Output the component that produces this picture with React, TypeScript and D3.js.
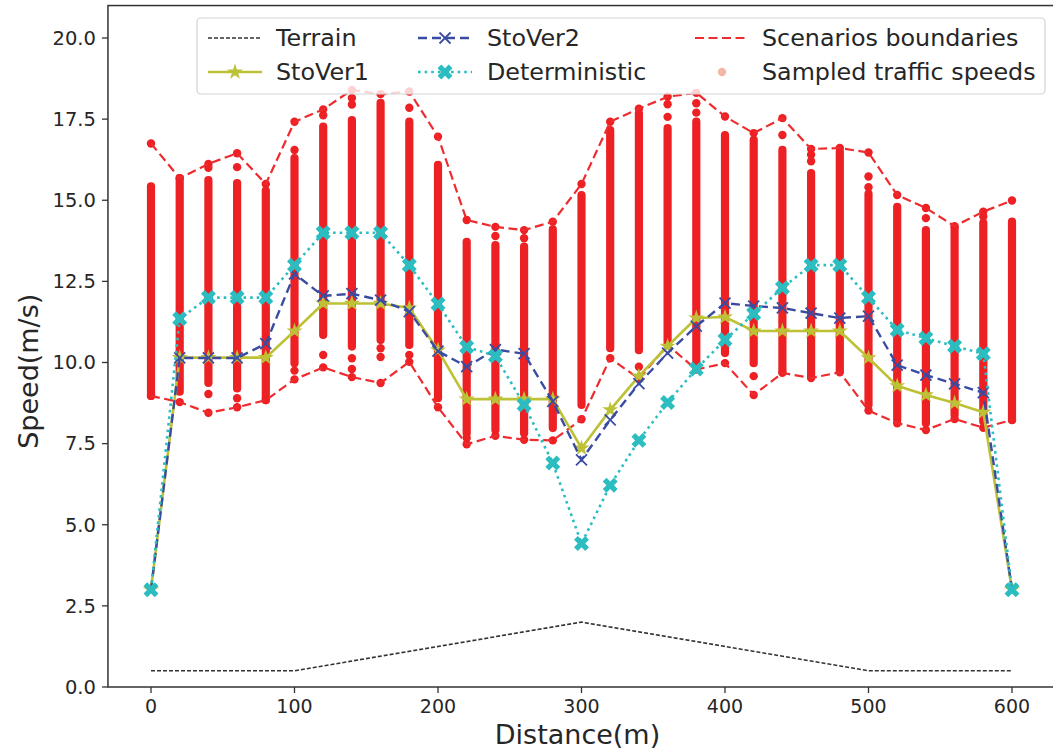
import React from "react";
import * as d3 from "d3";

const distance = [0, 20, 40, 60, 80, 100, 120, 140, 160, 180, 200, 220, 240, 260, 280, 300, 320, 340, 360, 380, 400, 420, 440, 460, 480, 500, 520, 540, 560, 580, 600];

const stoVer1 = [3.0, 10.15, 10.15, 10.15, 10.15, 10.97, 11.82, 11.82, 11.82, 11.68, 10.38, 8.87, 8.87, 8.87, 8.87, 7.36, 8.54, 9.58, 10.5, 11.37, 11.4, 10.97, 10.97, 10.97, 10.97, 10.14, 9.28, 9.0, 8.75, 8.47, 3.0];
const stoVer2 = [3.0, 10.14, 10.14, 10.14, 10.58, 12.73, 12.05, 12.12, 11.92, 11.57, 10.35, 9.87, 10.4, 10.27, 8.8, 7.0, 8.23, 9.35, 10.29, 11.12, 11.83, 11.74, 11.68, 11.52, 11.37, 11.43, 9.92, 9.61, 9.34, 9.07, 3.0];
const deterministic = [3.0, 11.35, 12.0, 12.0, 12.0, 13.0, 14.0, 14.0, 14.0, 13.0, 11.8, 10.48, 10.2, 8.7, 6.9, 4.42, 6.22, 7.6, 8.77, 9.8, 10.7, 11.5, 12.3, 13.0, 13.0, 12.0, 11.0, 10.75, 10.5, 10.27, 3.0];

const terrainX = [0, 100, 300, 500, 600];
const terrainY = [0.5, 0.5, 2.0, 0.5, 0.5];

const upperBound = [16.75, 15.68, 16.12, 16.45, 15.5, 17.42, 17.8, 18.4, 18.27, 18.35, 16.96, 14.39, 14.18, 14.08, 14.34, 15.5, 17.42, 17.82, 18.19, 18.31, 17.58, 17.07, 17.53, 16.58, 16.61, 16.47, 15.16, 14.76, 14.2, 14.65, 14.99];
const lowerBound = [8.97, 8.78, 8.45, 8.62, 8.84, 9.48, 9.85, 9.55, 9.37, 10.02, 8.62, 7.48, 7.74, 7.62, 7.6, 8.25, 10.13, 9.5, 10.54, 9.78, 9.98, 9.0, 9.68, 9.52, 9.7, 8.52, 8.13, 7.92, 8.26, 7.99, 8.23];

const denseHigh = [15.43, 15.68, 15.62, 15.53, 15.3, 16.3, 17.27, 17.47, 18.0, 17.42, 16.09, 13.72, 13.62, 13.57, 14.1, 15.16, 17.16, 17.68, 17.22, 17.42, 17.01, 16.86, 16.55, 15.84, 16.5, 15.2, 14.8, 14.08, 14.15, 14.3, 14.34];
const denseLow = [8.97, 9.1, 9.37, 9.2, 8.84, 9.98, 10.85, 10.49, 10.69, 10.54, 8.9, 7.82, 7.92, 7.82, 7.98, 8.69, 10.44, 10.38, 10.64, 10.02, 10.29, 9.98, 9.72, 9.55, 9.77, 8.69, 8.23, 8.13, 8.38, 8.18, 8.23];
const outliers: number[][] = [
  [], [], [16.0, 9.03], [16.02, 8.9], [], [16.55, 9.75], [17.62, 10.23], [18.15, 17.95, 10.13, 9.8],
  [10.44, 10.17], [17.85, 10.23], [], [7.67], [13.9], [13.83], [], [], [], [9.87], [17.96, 17.57],
  [17.99, 17.7], [], [9.58], [17.01], [16.4, 16.2], [], [15.73, 15.4], [], [14.45], [], [14.5], [],
];

const xTicks = [0, 100, 200, 300, 400, 500, 600];
const yTicks = [0, 2.5, 5, 7.5, 10, 12.5, 15, 17.5, 20];

const W = 1053;
const H = 751;

const x = d3.scaleLinear().domain([0, 600]).range([151, 1012]);
const y = d3.scaleLinear().domain([0, 20]).range([687, 38]);
const xMin = x(-30);
const xMax = x(630);
const yTop = y(21);
const yBot = y(0);

const RED = "#ED2024";
const RED_LINE = "#EE2B2E";
const BLUE = "#3A4CA2";
const OLIVE = "#BDC135";
const CYAN = "#2BBDC0";
const FONT = "'DejaVu Sans', sans-serif";

const star = d3.symbol().type(d3.symbolStar).size(80)()!;
const bigX = d3.symbol().type(d3.symbolCross).size(140)()!;

function line(xs: number[], ys: number[]) {
  return d3.line<number>().x((_, i) => x(xs[i])).y((v) => y(v))(ys) || "";
}

function XMark({ cx, cy, color }: { cx: number; cy: number; color: string }) {
  const s = 5.5;
  return (
    <g stroke={color} strokeWidth={1.8}>
      <line x1={cx - s} y1={cy - s} x2={cx + s} y2={cy + s} />
      <line x1={cx - s} y1={cy + s} x2={cx + s} y2={cy - s} />
    </g>
  );
}

export default function App() {
  const lx = [208, 418, 695];
  const ly = [38, 72];
  const LF = 23.8;
  return (
    <svg width={W} height={H} style={{ position: "absolute", left: 0, top: 0, background: "#fff" }} fontFamily={FONT}>
      <defs>
        <clipPath id="plot">
          <rect x={xMin} y={yTop} width={xMax - xMin} height={yBot - yTop} />
        </clipPath>
      </defs>
      <g clipPath="url(#plot)">
        {distance.map((d, i) => (
          <g key={"s" + i} fill={RED} stroke={RED}>
            <line x1={x(d)} x2={x(d)} y1={y(denseLow[i])} y2={y(denseHigh[i])} strokeWidth={8.2} strokeLinecap="round" />
            <circle cx={x(d)} cy={y(upperBound[i])} r={4.2} stroke="none" />
            <circle cx={x(d)} cy={y(lowerBound[i])} r={4.2} stroke="none" />
            {outliers[i].map((v, j) => (
              <circle key={j} cx={x(d)} cy={y(v)} r={4.2} stroke="none" />
            ))}
          </g>
        ))}
        <path d={line(distance, upperBound)} fill="none" stroke={RED_LINE} strokeWidth={2.2} strokeDasharray="9,4.5" />
        <path d={line(distance, lowerBound)} fill="none" stroke={RED_LINE} strokeWidth={2.2} strokeDasharray="9,4.5" />
        <path d={line(terrainX, terrainY)} fill="none" stroke="#333" strokeWidth={1.6} strokeDasharray="4,2" />
        <path d={line(distance, stoVer1)} fill="none" stroke={OLIVE} strokeWidth={2.6} />
        {distance.map((d, i) => (
          <path key={"a" + i} d={star} transform={`translate(${x(d)},${y(stoVer1[i])})`} fill={OLIVE} />
        ))}
        <path d={line(distance, stoVer2)} fill="none" stroke={BLUE} strokeWidth={2.4} strokeDasharray="9,5" />
        {distance.map((d, i) => (
          <XMark key={"b" + i} cx={x(d)} cy={y(stoVer2[i])} color={BLUE} />
        ))}
        <path d={line(distance, deterministic)} fill="none" stroke={CYAN} strokeWidth={2.6} strokeDasharray="2.6,4" />
        {distance.map((d, i) => (
          <path key={"c" + i} d={bigX} transform={`translate(${x(d)},${y(deterministic[i])}) rotate(45)`} fill={CYAN} />
        ))}
      </g>

      <rect x={xMin} y={yTop} width={xMax - xMin} height={yBot - yTop} fill="none" stroke="#333" strokeWidth={1.5} />
      {xTicks.map((t) => (
        <g key={"x" + t}>
          <line x1={x(t)} x2={x(t)} y1={yBot} y2={yBot + 6} stroke="#333" strokeWidth={1.3} />
          <text x={x(t)} y={yBot + 26} textAnchor="middle" fontSize={19} fill="#262626">{t}</text>
        </g>
      ))}
      {yTicks.map((t) => (
        <g key={"y" + t}>
          <line x1={xMin - 6} x2={xMin} y1={y(t)} y2={y(t)} stroke="#333" strokeWidth={1.3} />
          <text x={xMin - 12} y={y(t)} dy="0.35em" textAnchor="end" fontSize={19.5} fill="#262626">{t.toFixed(1)}</text>
        </g>
      ))}
      <text x={(xMin + xMax) / 2 - 4} y={744} textAnchor="middle" fontSize={27} fill="#262626">Distance(m)</text>
      <text transform={`translate(38,${(yTop + yBot) / 2 + 25}) rotate(-90)`} textAnchor="middle" fontSize={27} fill="#262626">Speed(m/s)</text>

      <rect x={197} y={18} width={848} height={76} rx={4} fill="#fff" fillOpacity={0.8} stroke="#d3d3d3" strokeWidth={1.2} />
      <line x1={lx[0]} x2={lx[0] + 54} y1={ly[0]} y2={ly[0]} stroke="#333" strokeWidth={1.6} strokeDasharray="4,2" />
      <text x={276} y={ly[0]} dy="0.35em" fontSize={LF} fill="#262626">Terrain</text>
      <line x1={lx[0]} x2={lx[0] + 54} y1={ly[1]} y2={ly[1]} stroke={OLIVE} strokeWidth={2.6} />
      <path d={star} transform={`translate(${lx[0] + 27},${ly[1]})`} fill={OLIVE} />
      <text x={276} y={ly[1]} dy="0.35em" fontSize={LF} fill="#262626">StoVer1</text>
      <line x1={lx[1]} x2={lx[1] + 54} y1={ly[0]} y2={ly[0]} stroke={BLUE} strokeWidth={2.4} strokeDasharray="9,5" />
      <XMark cx={lx[1] + 27} cy={ly[0]} color={BLUE} />
      <text x={487} y={ly[0]} dy="0.35em" fontSize={LF} fill="#262626">StoVer2</text>
      <line x1={lx[1]} x2={lx[1] + 54} y1={ly[1]} y2={ly[1]} stroke={CYAN} strokeWidth={2.6} strokeDasharray="2.6,4" />
      <path d={bigX} transform={`translate(${lx[1] + 27},${ly[1]}) rotate(45)`} fill={CYAN} />
      <text x={487} y={ly[1]} dy="0.35em" fontSize={LF} fill="#262626">Deterministic</text>
      <line x1={lx[2]} x2={lx[2] + 54} y1={ly[0]} y2={ly[0]} stroke={RED_LINE} strokeWidth={2.2} strokeDasharray="9,4.5" />
      <text x={762} y={ly[0]} dy="0.35em" fontSize={LF} fill="#262626">Scenarios boundaries</text>
      <circle cx={lx[2] + 27} cy={ly[1]} r={4.2} fill="#F5B6A8" />
      <text x={762} y={ly[1]} dy="0.35em" fontSize={LF} fill="#262626">Sampled traffic speeds</text>
    </svg>
  );
}
